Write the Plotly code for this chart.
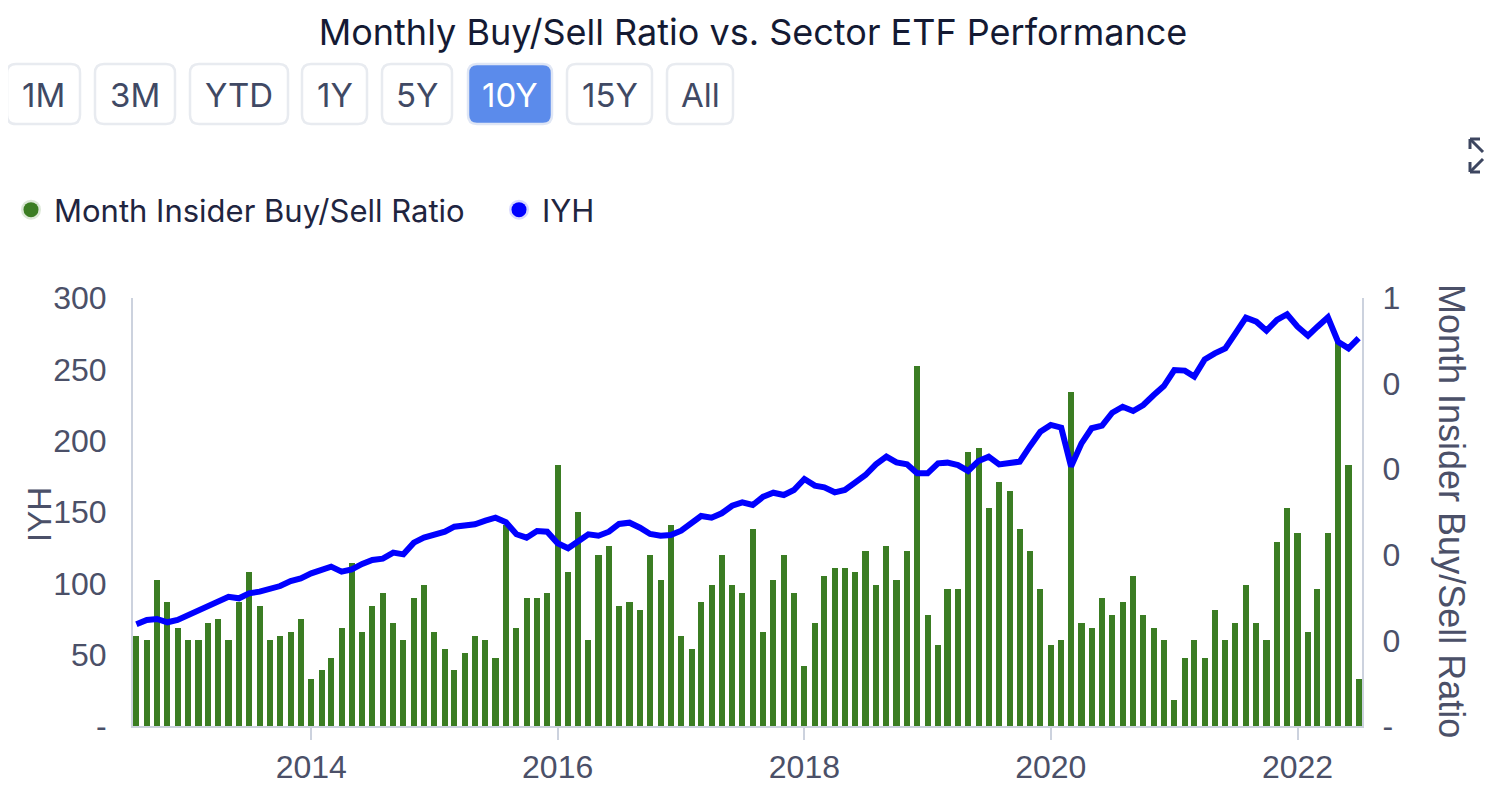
import pandas as pd
import plotly.graph_objects as go

# ---------------- data ----------------
months = pd.date_range("2012-08-01", periods=120, freq="MS")

buy_sell_ratio = [
    0.21, 0.20, 0.34, 0.29, 0.23, 0.20, 0.20, 0.24, 0.25, 0.20,
    0.29, 0.36, 0.28, 0.20, 0.21, 0.22, 0.25, 0.11, 0.13, 0.16,
    0.23, 0.38, 0.22, 0.28, 0.31, 0.24, 0.20, 0.30, 0.33, 0.22,
    0.18, 0.13, 0.17, 0.21, 0.20, 0.16, 0.47, 0.23, 0.30, 0.30,
    0.31, 0.61, 0.36, 0.50, 0.20, 0.40, 0.42, 0.28, 0.29, 0.27,
    0.40, 0.34, 0.47, 0.21, 0.18, 0.29, 0.33, 0.40, 0.33, 0.31,
    0.46, 0.22, 0.34, 0.40, 0.31, 0.14, 0.24, 0.35, 0.37, 0.37,
    0.36, 0.41, 0.33, 0.42, 0.34, 0.41, 0.84, 0.26, 0.19, 0.32,
    0.32, 0.64, 0.65, 0.51, 0.57, 0.55, 0.46, 0.41, 0.32, 0.19,
    0.20, 0.78, 0.24, 0.23, 0.30, 0.26, 0.29, 0.35, 0.26, 0.23,
    0.20, 0.06, 0.16, 0.20, 0.16, 0.27, 0.20, 0.24, 0.33, 0.24,
    0.20, 0.43, 0.51, 0.45, 0.22, 0.32, 0.45, 0.90, 0.61, 0.11,
]

iyh_price = [
    71.3, 74.3, 75.0, 72.7, 74.3, 77.8, 80.6, 84.1, 88.3, 90.6,
    89.5, 93.0, 94.2, 95.8, 98.1, 101.6, 103.5, 107.0, 110.0, 111.7,
    108.2, 109.8, 113.6, 116.4, 117.3, 121.5, 120.3, 128.5, 132.0, 133.9,
    136.2, 139.7, 140.4, 141.4, 143.9, 146.0, 142.8, 134.4, 132.0, 136.7,
    136.2, 128.1, 124.6, 129.2, 134.4, 133.4, 136.2, 141.6, 142.5, 139.0,
    134.6, 133.4, 133.9, 136.9, 142.1, 147.2, 146.0, 149.1, 154.4, 156.8,
    154.9, 160.7, 163.5, 161.9, 165.4, 173.1, 168.5, 167.3, 163.8, 165.4,
    170.8, 175.9, 183.4, 188.8, 184.8, 183.4, 177.1, 177.1, 184.1, 184.6,
    182.9, 178.8, 185.8, 188.8, 183.4, 184.8, 185.3, 196.3, 206.3, 211.0,
    209.1, 181.8, 198.1, 208.7, 210.5, 219.6, 223.8, 220.8, 225.0, 232.0,
    238.3, 249.5, 249.1, 244.9, 257.0, 261.2, 264.7, 275.2, 286.2, 283.4,
    277.1, 284.6, 288.6, 279.9, 273.6, 279.9, 286.5, 269.4, 264.7, 271.8,
]

left_tickvals = [0, 50, 100, 150, 200, 250, 300]
left_ticktext = ["-", "50", "100", "150", "200", "250", "300"]
right_tickvals = [0, 0.2, 0.4, 0.6, 0.8, 1.0]
right_ticktext = ["-", "0", "0", "0", "0", "1"]

range_buttons = ["1M", "3M", "YTD", "1Y", "5Y", "10Y", "15Y", "All"]
active_button = "10Y"

# ---------------- styling / layout (page pixels) ----------------
OFF = 8                       # page body margin offset
W, H = 1494 - OFF, 786 - OFF  # figure size
PL, PR, PT, PB = 133, 1362, 298, 726   # plot area in page pixels

GREEN = "#3b7d23"
BLUE = "#0000ff"
AXIS = "#ccd2de"
TICKTXT = "#4b5068"
DARK = "#141a33"
SANS = "Liberation Sans, Arial, sans-serif"
UI = "Inter, Noto Sans, sans-serif"


def px(x):
    return (x - PL) / (PR - PL)


def py(y):
    return (PB - y) / (PB - PT)


def round_rect(x0, y0, x1, y1, r):
    def P(x, y):
        return f"{px(x):.5f},{py(y):.5f}"
    return (f"M {P(x0 + r, y0)} L {P(x1 - r, y0)} Q {P(x1, y0)} {P(x1, y0 + r)} "
            f"L {P(x1, y1 - r)} Q {P(x1, y1)} {P(x1 - r, y1)} "
            f"L {P(x0 + r, y1)} Q {P(x0, y1)} {P(x0, y1 - r)} "
            f"L {P(x0, y0 + r)} Q {P(x0, y0)} {P(x0 + r, y0)} Z")


fig = go.Figure()

# bars on primary (right side) axis; line on overlaying left axis so it draws on top
fig.add_trace(go.Bar(
    x=months, y=buy_sell_ratio, name="Month Insider Buy/Sell Ratio",
    marker=dict(color=GREEN, line=dict(width=0)),
    width=18 * 24 * 3600 * 1000, yaxis="y", showlegend=False,
))
fig.add_trace(go.Scatter(
    x=months, y=iyh_price, name="IYH", mode="lines",
    line=dict(color=BLUE, width=6), yaxis="y2", showlegend=False,
))

# legend entries with round markers
fig.add_trace(go.Scatter(
    x=[None], y=[None], mode="markers", name="Month Insider Buy/Sell Ratio",
    marker=dict(color=GREEN, size=15, line=dict(color="rgba(59,125,35,0.18)", width=8)),
))
fig.add_trace(go.Scatter(
    x=[None], y=[None], mode="markers", name="IYH",
    marker=dict(color=BLUE, size=15, line=dict(color="rgba(0,0,255,0.15)", width=8)),
    yaxis="y2",
))

shapes = []
annotations = []

# range selector look-alike buttons
btn_left = [7, 95, 190, 302, 382, 468, 567, 667]
btn_right = [80, 175, 288, 367, 452, 552, 652, 733]
for lab, x0, x1 in zip(range_buttons, btn_left, btn_right):
    active = lab == active_button
    shapes.append(dict(
        type="path", xref="paper", yref="paper",
        path=round_rect(x0, 64, x1, 124, 9),
        fillcolor="#5b8beb" if active else "white",
        line=dict(color="#dfe6f5" if active else "#e8ebf0", width=2.5),
        layer="above",
    ))
    annotations.append(dict(
        x=px((x0 + x1) / 2), y=py(95), xref="paper", yref="paper",
        text=lab, showarrow=False, xanchor="center", yanchor="middle",
        font=dict(family=UI, size=33, color="white" if active else "#404964"),
    ))

# axis titles
annotations.append(dict(
    x=px(39), y=py(515), xref="paper", yref="paper", text="IYH", showarrow=False,
    textangle=-90, xanchor="center", yanchor="middle",
    font=dict(family=SANS, size=33, color=TICKTXT),
))
annotations.append(dict(
    x=px(1452), y=py(511), xref="paper", yref="paper",
    text="Month Insider Buy/Sell Ratio", showarrow=False,
    textangle=90, xanchor="center", yanchor="middle",
    font=dict(family=SANS, size=36, color=TICKTXT),
))

# expand icon (partially cut off at the right edge)
icon_lines = [
    (1483, 152, 1470, 139), (1470, 139, 1480, 139), (1470, 139, 1470, 149),
    (1483, 159, 1470, 172), (1470, 172, 1480, 172), (1470, 172, 1470, 162),
    (1489, 152, 1494, 147), (1489, 159, 1494, 164),
]
for x0, y0, x1, y1 in icon_lines:
    shapes.append(dict(type="line", xref="paper", yref="paper",
                       x0=px(x0), y0=py(y0), x1=px(x1), y1=py(y1),
                       line=dict(color="#3d4660", width=3)))

fig.update_layout(
    width=W, height=H,
    margin=dict(l=PL - OFF, r=W - (PR - OFF), t=PT - OFF, b=H - (PB - OFF), pad=0),
    paper_bgcolor="white", plot_bgcolor="white",
    title=dict(text="Monthly Buy/Sell Ratio vs. Sector ETF Performance",
               x=(753 - OFF) / W, xref="container", xanchor="center",
               y=1 - (32 - OFF) / H, yref="container", yanchor="middle",
               font=dict(family=UI, size=36, color=DARK)),
    showlegend=True,
    legend=dict(orientation="h", xref="container", yref="container",
                x=0, y=1 - (210 - OFF) / H, xanchor="left", yanchor="middle",
                font=dict(family=UI, size=31, color="#1f2540"),
                itemwidth=36, entrywidth=437, entrywidthmode="pixels",
                itemsizing="trace", bgcolor="rgba(0,0,0,0)", traceorder="normal"),
    bargap=0,
    xaxis=dict(
        type="date", range=["2012-07-22", "2022-07-11"],
        tick0="2014-01-01", dtick="M24", tickformat="%Y",
        showgrid=False, zeroline=False, automargin=False,
        showline=True, linecolor=AXIS, linewidth=2,
        ticks="outside", ticklen=12, tickwidth=2, tickcolor=AXIS,
        tickfont=dict(family=SANS, size=32, color=TICKTXT),
        ticklabelstandoff=0,
    ),
    yaxis=dict(
        side="right", range=[0, 1],
        tickvals=right_tickvals, ticktext=right_ticktext,
        showgrid=False, zeroline=False, automargin=False,
        showline=True, linecolor=AXIS, linewidth=2,
        ticks="", tickfont=dict(family=SANS, size=32, color=TICKTXT),
        ticklabelstandoff=12,
    ),
    yaxis2=dict(
        overlaying="y", side="left", range=[0, 300],
        tickvals=left_tickvals, ticktext=left_ticktext,
        showgrid=False, zeroline=False, automargin=False,
        showline=True, linecolor=AXIS, linewidth=2,
        ticks="", tickfont=dict(family=SANS, size=32, color=TICKTXT),
        ticklabelstandoff=18,
    ),
    shapes=shapes, annotations=annotations,
)

fig.write_html("out.html", config={"displayModeBar": False})
